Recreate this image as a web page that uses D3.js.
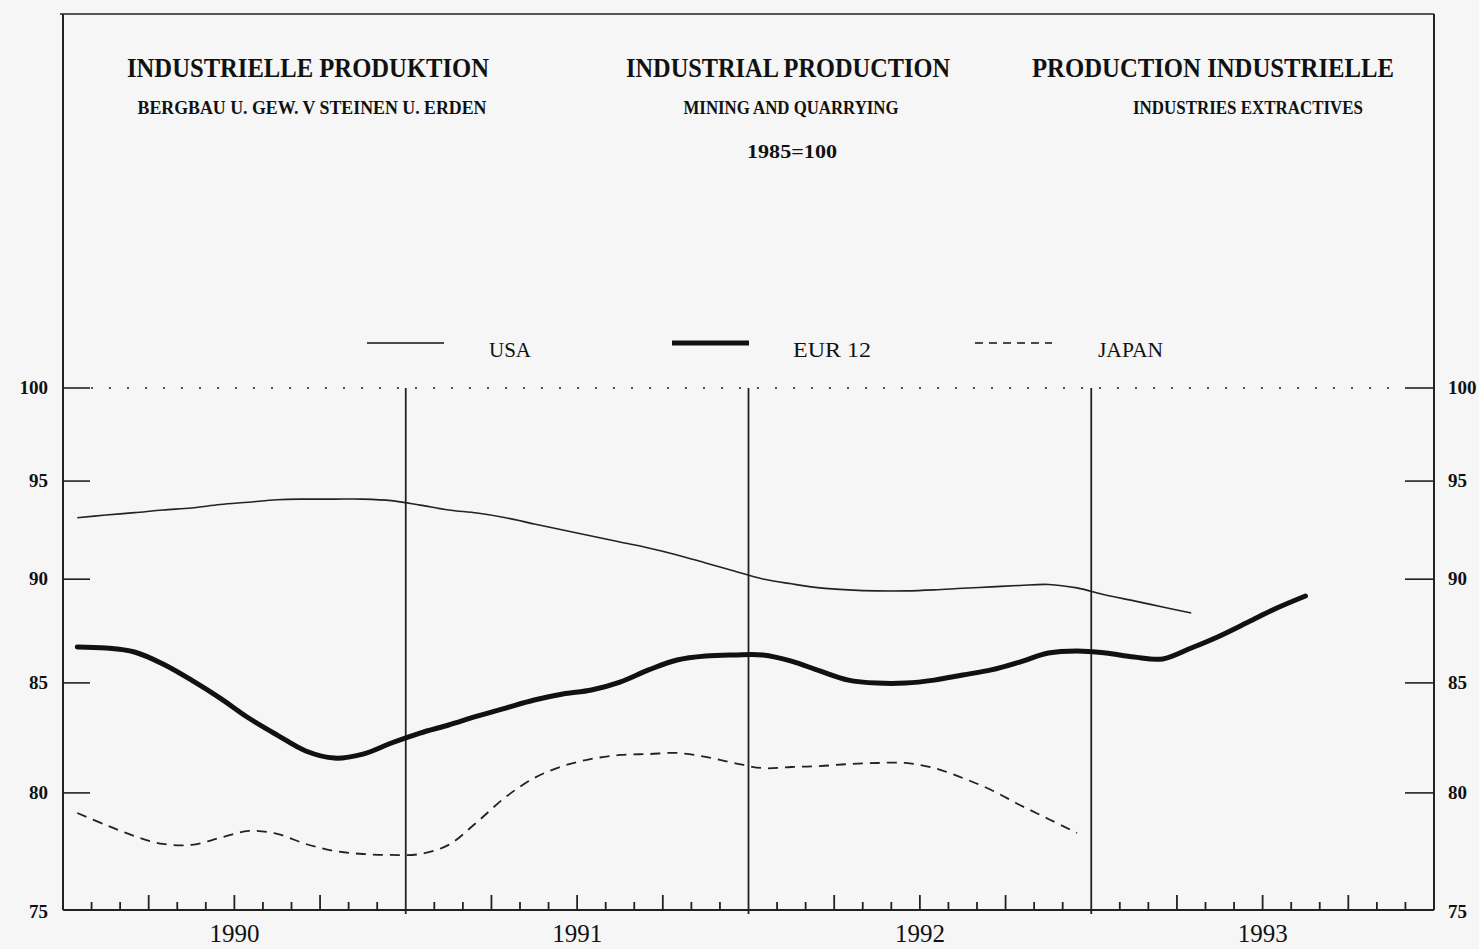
<!DOCTYPE html>
<html>
<head>
<meta charset="utf-8">
<script src="https://cdn.jsdelivr.net/npm/d3@7"></script>
<style>
  html, body { margin: 0; padding: 0; background: #f6f6f6; }
  svg { display: block; }
  text { font-family: "Liberation Serif", "DejaVu Serif", serif; fill: #111; }
</style>
</head>
<body>
<svg id="chart" width="1479" height="949"></svg>
<script>
// ---------- DATA (monthly, mid-month, starting Jan 1990) ----------
const startYear = 1990;
const usaValues = [93.1, 93.24, 93.36, 93.5, 93.6, 93.78, 93.9, 94.03, 94.06, 94.06,
  94.06, 93.98, 93.75, 93.5, 93.34, 93.1, 92.78, 92.47, 92.17, 91.86,
  91.56, 91.21, 90.81, 90.41, 90.01, 89.77, 89.57, 89.47, 89.42, 89.42,
  89.47, 89.55, 89.62, 89.69, 89.74, 89.57, 89.22, 88.93, 88.63, 88.34];
const eurValues = [86.7, 86.65, 86.46, 85.89, 85.13, 84.29, 83.37, 82.59, 81.87, 81.55,
  81.73, 82.23, 82.68, 83.05, 83.46, 83.83, 84.2, 84.48, 84.67, 85.04,
  85.61, 86.08, 86.27, 86.32, 86.32, 86.03, 85.56, 85.13, 84.99, 84.99,
  85.13, 85.37, 85.61, 85.98, 86.41, 86.51, 86.41, 86.22, 86.13, 86.65,
  87.23, 87.9, 88.58, 89.17];
const japanValues = [79.12, 78.6, 78.12, 77.78, 77.74, 78.04, 78.34, 78.21, 77.78, 77.48,
  77.35, 77.31, 77.35, 77.74, 78.73, 79.82, 80.66, 81.19, 81.51, 81.69,
  81.73, 81.78, 81.6, 81.33, 81.1, 81.15, 81.19, 81.28, 81.33, 81.33,
  81.1, 80.66, 80.13, 79.47, 78.86, 78.25];
const seriesNames = ["USA", "EUR 12", "JAPAN"];
const yTicks = [75, 80, 85, 90, 95, 100];
const years = [1990, 1991, 1992, 1993];
const titles = ["INDUSTRIELLE PRODUKTION", "INDUSTRIAL PRODUCTION", "PRODUCTION INDUSTRIELLE"];
const subtitles = ["BERGBAU U. GEW. V STEINEN U. ERDEN", "MINING AND QUARRYING", "INDUSTRIES EXTRACTIVES"];
const baseNote = "1985=100";

// ---------- LAYOUT ----------
const svg = d3.select("#chart");
const plotL = 63, plotR = 1434, plotT = 14, plotB = 910, y100 = 388;

const x = d3.scaleLinear().domain([1990, 1994]).range([plotL, plotR]);
const y = d3.scaleLog().domain([75, 100]).range([plotB, y100]);

const toPoints = vals => vals.map((v, i) => ({ t: startYear + (i + 0.5) / 12, v }));

// frame
svg.append("line").attr("x1", plotL - 3).attr("x2", plotR).attr("y1", plotT).attr("y2", plotT)
  .attr("stroke", "#222").attr("stroke-width", 1.6);
svg.append("line").attr("x1", plotL).attr("x2", plotL).attr("y1", plotT).attr("y2", plotB)
  .attr("stroke", "#222").attr("stroke-width", 2);
svg.append("line").attr("x1", plotR).attr("x2", plotR).attr("y1", plotT).attr("y2", plotB)
  .attr("stroke", "#222").attr("stroke-width", 2);
svg.append("line").attr("x1", plotL).attr("x2", plotR).attr("y1", plotB).attr("y2", plotB)
  .attr("stroke", "#222").attr("stroke-width", 2);

// titles
const titleX = [308, 788, 1213];
const titleW = [362, 324, 362];
const subX = [312, 791, 1248];
const subW = [349, 215, 230];
titles.forEach((t, i) => {
  svg.append("text").attr("x", titleX[i]).attr("y", 77).attr("text-anchor", "middle")
    .attr("font-size", 27).attr("font-weight", "bold")
    .attr("textLength", titleW[i]).attr("lengthAdjust", "spacingAndGlyphs").text(t);
});
subtitles.forEach((t, i) => {
  svg.append("text").attr("x", subX[i]).attr("y", 114).attr("text-anchor", "middle")
    .attr("font-size", 18).attr("font-weight", "bold")
    .attr("textLength", subW[i]).attr("lengthAdjust", "spacingAndGlyphs").text(t);
});
svg.append("text").attr("x", 792).attr("y", 158).attr("text-anchor", "middle")
  .attr("font-size", 18).attr("font-weight", "bold")
  .attr("textLength", 90).attr("lengthAdjust", "spacingAndGlyphs").text(baseNote);

// legend
const legendStyles = [
  { w: 1.5, dash: null },
  { w: 5, dash: null },
  { w: 1.6, dash: "8,6" }
];
const legLineX = [367, 672, 975];
const legTextX = [489, 793, 1098];
const legTextW = [42, 78, 65];
seriesNames.forEach((n, i) => {
  const yy = 343;
  svg.append("line").attr("x1", legLineX[i]).attr("x2", legLineX[i] + 77)
    .attr("y1", yy).attr("y2", yy).attr("stroke", "#111")
    .attr("stroke-width", legendStyles[i].w)
    .attr("stroke-dasharray", legendStyles[i].dash);
  svg.append("text").attr("x", legTextX[i]).attr("y", 357).attr("font-size", 22)
    .attr("textLength", legTextW[i]).attr("lengthAdjust", "spacingAndGlyphs").text(n);
});

// dotted 100 line
svg.append("line").attr("x1", plotL + 28).attr("x2", plotR - 30)
  .attr("y1", y(100)).attr("y2", y(100))
  .attr("stroke", "#555").attr("stroke-width", 2).attr("stroke-dasharray", "2,16");

// y ticks left & right
yTicks.forEach(v => {
  if (v !== 75) {
    svg.append("line").attr("x1", plotL).attr("x2", plotL + 27).attr("y1", y(v)).attr("y2", y(v))
      .attr("stroke", "#222").attr("stroke-width", 1.6);
    svg.append("line").attr("x1", plotR - 29).attr("x2", plotR).attr("y1", y(v)).attr("y2", y(v))
      .attr("stroke", "#222").attr("stroke-width", 1.6);
  }
  svg.append("text").attr("x", 48).attr("y", y(v) + (v === 75 ? 8 : 6))
    .attr("text-anchor", "end").attr("font-size", 19).attr("font-weight", "bold").text(v);
  svg.append("text").attr("x", 1448).attr("y", y(v) + (v === 75 ? 8 : 6))
    .attr("text-anchor", "start").attr("font-size", 19).attr("font-weight", "bold").text(v);
});

// month ticks on bottom axis
for (let m = 1; m < 48; m++) {
  if (m % 12 === 0) continue;
  const h = (m % 3 === 0) ? 15 : 8;
  const xx = x(1990 + m / 12);
  svg.append("line").attr("x1", xx).attr("x2", xx).attr("y1", plotB).attr("y2", plotB - h)
    .attr("stroke", "#222").attr("stroke-width", 1.8);
}

// year separators
[1991, 1992, 1993].forEach(yr => {
  svg.append("line").attr("x1", x(yr)).attr("x2", x(yr)).attr("y1", y(100)).attr("y2", plotB + 4)
    .attr("stroke", "#222").attr("stroke-width", 1.8);
});

// year labels
years.forEach(yr => {
  svg.append("text").attr("x", x(yr + 0.5)).attr("y", 942).attr("text-anchor", "middle")
    .attr("font-size", 25).text(yr);
});

// series lines
const line = d3.line().x(d => x(d.t)).y(d => y(d.v)).curve(d3.curveCatmullRom.alpha(0.5));
svg.append("path").datum(toPoints(usaValues)).attr("d", line)
  .attr("fill", "none").attr("stroke", "#222").attr("stroke-width", 1.6);
svg.append("path").datum(toPoints(eurValues)).attr("d", line)
  .attr("fill", "none").attr("stroke", "#111").attr("stroke-width", 5)
  .attr("stroke-linecap", "round").attr("stroke-linejoin", "round");
svg.append("path").datum(toPoints(japanValues)).attr("d", line)
  .attr("fill", "none").attr("stroke", "#222").attr("stroke-width", 1.8)
  .attr("stroke-dasharray", "10,7");
</script>
</body>
</html>
